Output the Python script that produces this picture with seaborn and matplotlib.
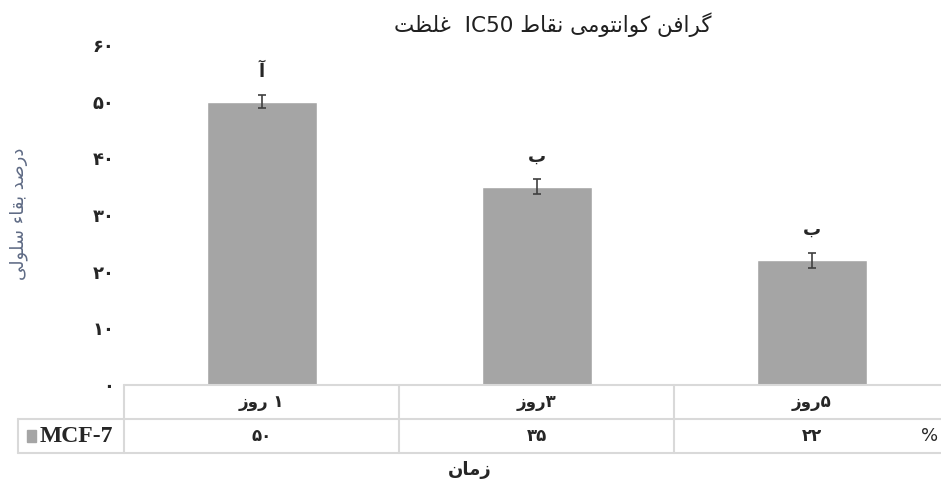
import numpy as np
import pandas as pd
import matplotlib.pyplot as plt
import seaborn as sns
from matplotlib.lines import Line2D
from matplotlib.patches import Rectangle
import matplotlib.transforms as mtransforms

# ============================================
# 数据（阿拉伯/波斯文字已按显示顺序写成呈现形式）
# ============================================
TITLE = '\uFE96\uFEC8\uFEE0\uFECF  IC50 \uFEC1\uFE8E\uFED8\uFEE7 ' \
        '\uFEF0\uFEE3\uFEEE\uFE98\uFEE7\uFE8D\uFEEE\uFEDB ' \
        '\uFEE6\uFED3\uFE8D\uFEAE\uFB94'
Y_LABEL = '\uFEF0\uFEDF\uFEEE\uFEE0\uFEB3 \uFE80\uFE8E\uFED8\uFE91 \uFEAA\uFEBB\uFEAD\uFEA9'
X_LABEL = '\uFEE5\uFE8E\uFEE3\uFEAF'

categories = ['\uFEAF\uFEED\uFEAD ۱', '\uFEAF\uFEED\uFEAD۳', '\uFEAF\uFEED\uFEAD۵']
values = [50, 35, 22]
errors = [1.2, 1.3, 1.3]
letters = ['\uFE81', '\uFE8F', '\uFE8F']
series_name = 'MCF-7'
y_ticks = [0, 10, 20, 30, 40, 50, 60]

BAR_COLOR = '#a5a5a5'
GRID_COLOR = '#d9d9d9'


def fa(n):
    """阿拉伯数字 -> 波斯数字"""
    return str(n).translate(str.maketrans('0123456789', '۰۱۲۳۴۵۶۷۸۹'))


sns.set_theme(style='white')
plt.rcParams['font.family'] = ['DejaVu Sans', 'Liberation Serif']

W, H = 941, 486
fig = plt.figure(figsize=(W / 100, H / 100), dpi=100)
ax_left, ax_right, ax_top, ax_bot = 124, 949, 45, 385
ax = fig.add_axes([ax_left / W, 1 - ax_bot / H, (ax_right - ax_left) / W, (ax_bot - ax_top) / H])

df = pd.DataFrame({'cat': categories, 'val': values})
sns.barplot(data=df, x='cat', y='val', color=BAR_COLOR, width=0.4,
            saturation=1, errorbar=None, ax=ax)
ax.errorbar(range(len(values)), values, yerr=errors, fmt='none',
            ecolor='#404040', elinewidth=1.2, capsize=3, capthick=1.2)

for i, (v, e, t) in enumerate(zip(values, errors, letters)):
    ax.annotate(t, (i, v + e), xytext=(0, 10), textcoords='offset points',
                ha='center', va='bottom', fontsize=13, fontweight='bold')

ax.set_xlim(-0.5, len(categories) - 0.5)
ax.set_ylim(0, 60)
ax.set_yticks(y_ticks)
ax.set_yticklabels([fa(t) for t in y_ticks], fontsize=13, fontweight='bold')
ax.tick_params(axis='y', length=0, pad=7)
ax.set_xticks([])
ax.set_xlabel('')
ax.set_ylabel('')
for s in ax.spines.values():
    s.set_visible(False)

# ============================================
# 数据表
# ============================================
blend = mtransforms.blended_transform_factory(ax.transData, ax.transAxes)
r1 = -34 / 340
r2 = -68 / 340
hdr_left = (18 - ax_left) / (ax_right - ax_left)
lk = dict(color=GRID_COLOR, lw=1.5, clip_on=False)

ax.add_line(Line2D([-0.5, len(categories) - 0.5], [0, 0], transform=blend, **lk))
ax.add_line(Line2D([hdr_left, 1], [r1, r1], transform=ax.transAxes, **lk))
ax.add_line(Line2D([hdr_left, 1], [r2, r2], transform=ax.transAxes, **lk))
ax.add_line(Line2D([hdr_left, hdr_left], [r1, r2], transform=ax.transAxes, **lk))
for k in range(len(categories)):
    ax.add_line(Line2D([k - 0.5, k - 0.5], [0, r2], transform=blend, **lk))

for i, (c, v) in enumerate(zip(categories, values)):
    ax.text(i, r1 / 2, c, transform=blend, ha='center', va='center',
            fontsize=12, fontweight='bold')
    ax.text(i, (r1 + r2) / 2, fa(v), transform=blend, ha='center', va='center',
            fontsize=12, fontweight='bold')
ax.text((938 - ax_left) / (ax_right - ax_left), (r1 + r2) / 2, '%', transform=ax.transAxes,
        ha='right', va='center', fontsize=13)

ax.add_patch(Rectangle(((27 - ax_left) / (ax_right - ax_left), (r1 + r2) / 2 - 0.017),
                       9 / 825, 0.034, transform=ax.transAxes, color=BAR_COLOR, clip_on=False))
ax.text((40 - ax_left) / (ax_right - ax_left), (r1 + r2) / 2, series_name, transform=ax.transAxes,
        ha='left', va='center', fontsize=17, fontweight='bold', family='Liberation Serif')

# 标题与轴标题
fig.text(553 / W, 1 - 25 / H, TITLE, ha='center', va='center', fontsize=15.5, color='#202020')
fig.text(19 / W, 1 - 214 / H, Y_LABEL, ha='center', va='center', rotation=90,
         fontsize=13, color='#5f6b85')
fig.text(470 / W, 1 - 470 / H, X_LABEL, ha='center', va='center', fontsize=13, fontweight='bold')

fig.savefig('out.png', dpi=100)
